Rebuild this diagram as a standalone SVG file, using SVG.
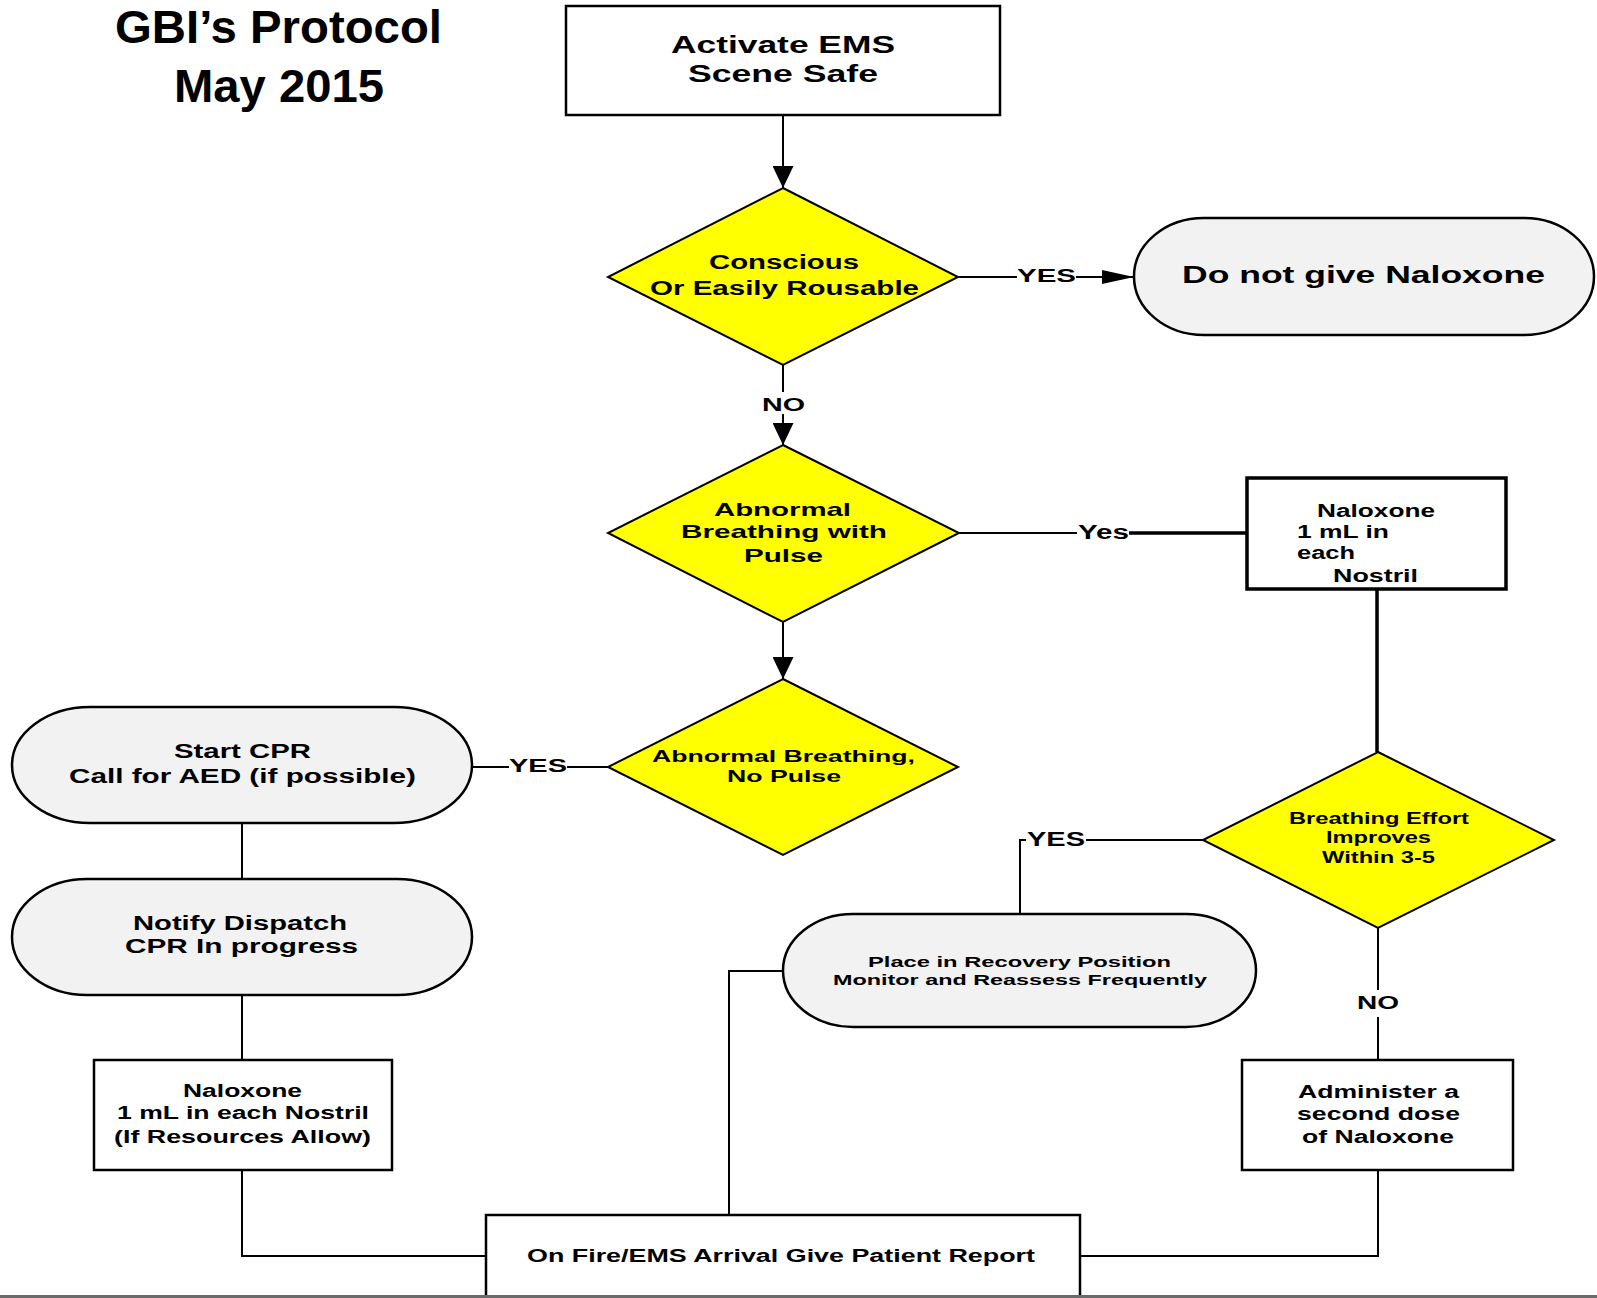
<svg xmlns="http://www.w3.org/2000/svg" width="1597" height="1298" viewBox="0 0 1597 1298">
<style>
text{font-family:"Liberation Sans",Arial,sans-serif;font-weight:bold;fill:#000}
.box{fill:#fff;stroke:#000;stroke-width:2.5}
.boxT{fill:#fff;stroke:#000;stroke-width:3.5}
.dia{fill:#ffff00;stroke:#000;stroke-width:2}
.term{fill:#f2f2f2;stroke:#000;stroke-width:2.5}
.c{fill:none;stroke:#000;stroke-width:2}
.ct{fill:none;stroke:#000;stroke-width:3.5}
</style>
<defs>
<marker id="av" viewBox="0 0 22 21" refX="22" refY="10.5" markerWidth="22" markerHeight="21" markerUnits="userSpaceOnUse" orient="auto"><path d="M0,0 L22,10.5 L0,21 z" fill="#000"/></marker>
<marker id="ah" viewBox="0 0 32 14" refX="32" refY="7" markerWidth="32" markerHeight="14" markerUnits="userSpaceOnUse" orient="auto"><path d="M0,0 L32,7 L0,14 z" fill="#000"/></marker>
</defs>
<rect width="1597" height="1298" fill="#fff"/>
<g id="title">
<text x="115" y="43" font-size="46" textLength="327" lengthAdjust="spacingAndGlyphs">GBI’s Protocol</text>
<text x="174" y="102" font-size="46" textLength="210" lengthAdjust="spacingAndGlyphs">May 2015</text>
</g>
<g id="connectors">
<path class="c" d="M783,115 V188" marker-end="url(#av)"/>
<path class="c" d="M958,277 H1017"/>
<path class="c" d="M1076,277 H1134" marker-end="url(#ah)"/>
<path class="c" d="M783,365 V392"/>
<path class="c" d="M783,414 V445" marker-end="url(#av)"/>
<path class="c" d="M959,533 H1077"/>
<path class="ct" d="M1129,533 H1247"/>
<path class="ct" d="M1377,589 V752"/>
<path class="c" d="M783,622 V679" marker-end="url(#av)"/>
<path class="c" d="M608,767 H567"/>
<path class="c" d="M509,767 H472"/>
<path class="c" d="M242,823 V879"/>
<path class="c" d="M242,995 V1060"/>
<path class="c" d="M242,1170 V1256 H486"/>
<path class="c" d="M1203,840 H1086"/>
<path class="c" d="M1026,840 H1020 V914"/>
<path class="c" d="M1378,928 V990"/>
<path class="c" d="M1378,1017 V1060"/>
<path class="c" d="M1378,1170 V1256 H1080"/>
<path class="c" d="M783,971 H729 V1215"/>
<text x="1017" y="282" font-size="19" textLength="59" lengthAdjust="spacingAndGlyphs">YES</text>
<text x="762" y="411" font-size="19" textLength="43" lengthAdjust="spacingAndGlyphs">NO</text>
<text x="1078" y="539" font-size="20" textLength="51" lengthAdjust="spacingAndGlyphs">Yes</text>
<text x="509" y="772" font-size="19" textLength="58" lengthAdjust="spacingAndGlyphs">YES</text>
<text x="1027" y="846" font-size="20" textLength="58" lengthAdjust="spacingAndGlyphs">YES</text>
<text x="1357" y="1009" font-size="19" textLength="42" lengthAdjust="spacingAndGlyphs">NO</text>
</g>
<g id="activate">
<rect class="box" x="566" y="6" width="434" height="109"/>
<text x="671" y="53" font-size="24" textLength="224" lengthAdjust="spacingAndGlyphs">Activate EMS</text>
<text x="688" y="82" font-size="24" textLength="190" lengthAdjust="spacingAndGlyphs">Scene Safe</text>
</g>
<g id="conscious">
<polygon class="dia" points="783,188 958,277 783,365 608,277"/>
<text x="709" y="269" font-size="20" textLength="150" lengthAdjust="spacingAndGlyphs">Conscious</text>
<text x="650" y="295" font-size="20" textLength="269" lengthAdjust="spacingAndGlyphs">Or Easily Rousable</text>
</g>
<g id="noNaloxone">
<rect class="term" x="1134" y="218" width="460" height="117" rx="70" ry="58.5"/>
<text x="1182" y="283" font-size="23" textLength="363" lengthAdjust="spacingAndGlyphs">Do not give Naloxone</text>
</g>
<g id="breathingPulse">
<polygon class="dia" points="783,445 959,533 783,622 608,533"/>
<text x="714" y="516" font-size="19" textLength="137" lengthAdjust="spacingAndGlyphs">Abnormal</text>
<text x="681" y="538" font-size="19" textLength="206" lengthAdjust="spacingAndGlyphs">Breathing with</text>
<text x="744" y="562" font-size="19" textLength="79" lengthAdjust="spacingAndGlyphs">Pulse</text>
</g>
<g id="naloxoneRight">
<rect class="boxT" x="1247" y="478" width="259" height="111"/>
<text x="1317" y="517" font-size="18" textLength="118" lengthAdjust="spacingAndGlyphs">Naloxone</text>
<text x="1297" y="538" font-size="18" textLength="92" lengthAdjust="spacingAndGlyphs">1 mL in</text>
<text x="1297" y="559" font-size="18" textLength="58" lengthAdjust="spacingAndGlyphs">each</text>
<text x="1333" y="582" font-size="18" textLength="85" lengthAdjust="spacingAndGlyphs">Nostril</text>
</g>
<g id="noPulse">
<polygon class="dia" points="783,679 958,767 783,855 608,767"/>
<text x="652" y="762" font-size="17" textLength="263" lengthAdjust="spacingAndGlyphs">Abnormal Breathing,</text>
<text x="727" y="782" font-size="17" textLength="114" lengthAdjust="spacingAndGlyphs">No Pulse</text>
</g>
<g id="startCPR">
<rect class="term" x="12" y="707" width="460" height="116" rx="78" ry="58"/>
<text x="174" y="758" font-size="20" textLength="137" lengthAdjust="spacingAndGlyphs">Start CPR</text>
<text x="69" y="783" font-size="20" textLength="347" lengthAdjust="spacingAndGlyphs">Call for AED (if possible)</text>
</g>
<g id="notify">
<rect class="term" x="12" y="879" width="460" height="116" rx="75" ry="58"/>
<text x="133" y="930" font-size="20" textLength="214" lengthAdjust="spacingAndGlyphs">Notify Dispatch</text>
<text x="125" y="953" font-size="20" textLength="233" lengthAdjust="spacingAndGlyphs">CPR In progress</text>
</g>
<g id="naloxoneLeft">
<rect class="box" x="94" y="1060" width="298" height="110"/>
<text x="183" y="1097" font-size="18" textLength="119" lengthAdjust="spacingAndGlyphs">Naloxone</text>
<text x="117" y="1119" font-size="18" textLength="252" lengthAdjust="spacingAndGlyphs">1 mL in each Nostril</text>
<text x="114" y="1143" font-size="18" textLength="257" lengthAdjust="spacingAndGlyphs">(If Resources Allow)</text>
</g>
<g id="effort">
<polygon class="dia" points="1378,752 1554,840 1378,928 1203,840"/>
<text x="1289" y="824" font-size="16" textLength="180" lengthAdjust="spacingAndGlyphs">Breathing Effort</text>
<text x="1326" y="843" font-size="16" textLength="105" lengthAdjust="spacingAndGlyphs">Improves</text>
<text x="1322" y="863" font-size="16" textLength="113" lengthAdjust="spacingAndGlyphs">Within 3-5</text>
</g>
<g id="recovery">
<rect class="term" x="783" y="914" width="473" height="113" rx="70" ry="56.5"/>
<text x="868" y="967" font-size="15" textLength="303" lengthAdjust="spacingAndGlyphs">Place in Recovery Position</text>
<text x="833" y="985" font-size="15" textLength="374" lengthAdjust="spacingAndGlyphs">Monitor and Reassess Frequently</text>
</g>
<g id="secondDose">
<rect class="box" x="1242" y="1060" width="271" height="110"/>
<text x="1298" y="1098" font-size="18" textLength="161" lengthAdjust="spacingAndGlyphs">Administer a</text>
<text x="1297" y="1120" font-size="18" textLength="163" lengthAdjust="spacingAndGlyphs">second dose</text>
<text x="1302" y="1143" font-size="18" textLength="152" lengthAdjust="spacingAndGlyphs">of Naloxone</text>
</g>
<g id="report">
<rect class="box" x="486" y="1215" width="594" height="82"/>
<text x="527" y="1262" font-size="18" textLength="508" lengthAdjust="spacingAndGlyphs">On Fire/EMS Arrival Give Patient Report</text>
</g>
<rect x="0" y="1295" width="1597" height="3" fill="#6b6b6b"/>
</svg>
